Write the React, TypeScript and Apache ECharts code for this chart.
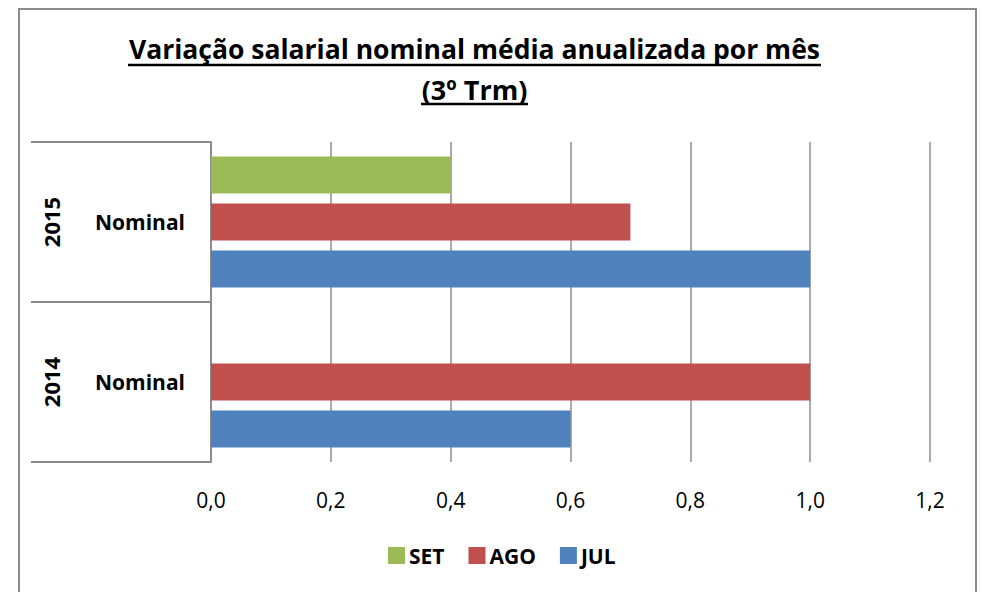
import React, { useEffect, useRef } from "react";
import * as echarts from "echarts";

const FONT = "'Open Sans', 'Liberation Sans', sans-serif";

const titleLines = ["Variação salarial nominal média anualizada por mês", "(3º Trm)"];
const years = ["2014", "2015"];
const measures = ["Nominal", "Nominal"];
const seriesNames = ["SET", "AGO", "JUL"];
const setValues: (number | null)[] = [null, 0.4];
const agoValues: (number | null)[] = [1.0, 0.7];
const julValues: (number | null)[] = [0.6, 1.0];
const seriesColors = ["#9BBB59", "#C0504D", "#4F81BD"];
const xMin = 0;
const xMax = 1.2;
const xStep = 0.2;

export default function App() {
  const ref = useRef<HTMLDivElement>(null);
  useEffect(() => {
    if (!ref.current) return;
    const chart = echarts.init(ref.current, undefined, { renderer: "svg" });
    const data = [setValues, agoValues, julValues];
    chart.setOption({
      animation: false,
      backgroundColor: "#ffffff",
      textStyle: { fontFamily: FONT },
      graphic: [
        {
          type: "rect",
          shape: { x: 19, y: 9, width: 957, height: 620 },
          style: { fill: "none", stroke: "#8c8c8c", lineWidth: 2 },
          silent: true,
        },
        {
          type: "text",
          x: 474.5,
          y: 49,
          style: {
            text: titleLines[0],
            fill: "#000",
            font: `bold 26.5px ${FONT}`,
            textAlign: "center",
            textVerticalAlign: "middle",
          },
        },
        {
          type: "text",
          x: 474.5,
          y: 89,
          style: {
            text: titleLines[1],
            fill: "#000",
            font: `bold 27px ${FONT}`,
            textAlign: "center",
            textVerticalAlign: "middle",
          },
        },
        {
          type: "line",
          shape: { x1: 128, y1: 65, x2: 821, y2: 65 },
          style: { stroke: "#000", lineWidth: 2.5 },
        },
        {
          type: "line",
          shape: { x1: 421, y1: 104, x2: 528, y2: 104 },
          style: { stroke: "#000", lineWidth: 2.5 },
        },
      ],
      legend: {
        data: seriesNames,
        left: 383,
        top: 540,
        icon: "rect",
        itemWidth: 17,
        itemHeight: 17,
        itemGap: 24,
        textStyle: { fontFamily: FONT, fontWeight: "bold", fontSize: 21, color: "#000", padding: [0, 0, 0, -1] },
      },
      grid: { left: 211, right: 52, top: 142, bottom: 130, containLabel: false },
      xAxis: {
        type: "value",
        min: xMin,
        max: xMax,
        interval: xStep,
        axisLine: { show: false },
        axisTick: { show: false },
        splitLine: { show: true, lineStyle: { color: "#8c8c8c", width: 1.5 } },
        axisLabel: {
          margin: 27,
          fontSize: 21,
          color: "#000",
          fontFamily: FONT,
          formatter: (v: number) => v.toFixed(1).replace(".", ","),
        },
      },
      yAxis: [
        {
          type: "category",
          data: years,
          axisLine: { show: true, lineStyle: { color: "#8c8c8c", width: 2 } },
          axisTick: { show: true, length: 180, interval: 0, lineStyle: { color: "#8c8c8c", width: 2 } },
          axisLabel: {
            margin: 26,
            fontSize: 21,
            fontWeight: "bold",
            color: "#000",
            fontFamily: FONT,
            formatter: (_v: string, i: number) => measures[i],
          },
        },
        {
          type: "category",
          data: years,
          position: "left",
          axisLine: { show: false },
          axisTick: { show: false },
          axisLabel: {
            margin: 149,
            rotate: 90,
            fontSize: 22,
            fontWeight: "bold",
            color: "#000",
            fontFamily: FONT,
          },
        },
      ],
      series: seriesNames.map((name, i) => ({
        name,
        type: "bar",
        yAxisIndex: 0,
        data: data[i],
        itemStyle: { color: seriesColors[i] },
        barGap: "27%",
        barCategoryGap: "18%",
      })),
    });
    return () => chart.dispose();
  }, []);
  return (
    <div
      ref={ref}
      style={{ position: "fixed", left: 0, top: 0, width: 982, height: 592, background: "#fff" }}
    />
  );
}
